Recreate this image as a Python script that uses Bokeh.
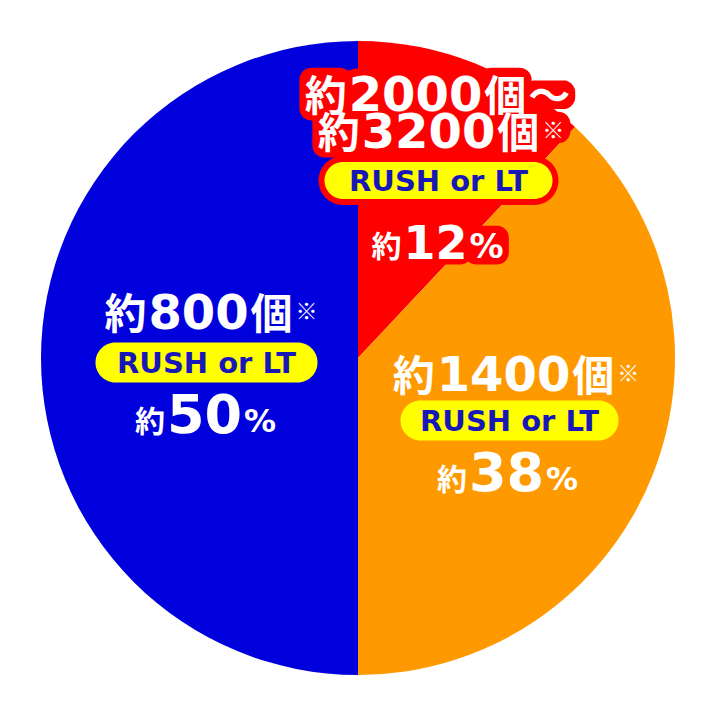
import numpy as np
from bokeh.plotting import figure
from bokeh.models import Range1d, ColumnDataSource
from bokeh.core.properties import value, field
from bokeh.embed import file_html
from bokeh.resources import INLINE

# ---------------- data ----------------
categories = ["約2000個～約3200個", "約1400個", "約800個"]
shares = [12, 38, 50]                       # percent, clockwise from 12 o'clock
slice_colors = ["#ff0000", "#ff9900", "#0000dc"]
count_labels = [["約2000個～", "約3200個※"], ["約1400個※"], ["約800個※"]]
mode_label = "RUSH or LT"
pct_prefix = "約"

# ---------------- layout (reference pixel coords, y downwards) ----------------
PIE_C = (357.5, 357.5)
PIE_R = 317
layout = [
    dict(lines=[(437, 110), (428, 147)], pill=(438, 180, 228, 37), pct=(437, 257),
         pct_num=46, pct_sym=34, halo=True),
    dict(lines=[(503, 390)], pill=(509, 420, 218, 40), pct=(507, 490),
         pct_num=54, pct_sym=32, halo=False),
    dict(lines=[(198, 328)], pill=(206, 362, 222, 40), pct=(205, 432),
         pct_num=54, pct_sym=32, halo=False),
]
NUM_FONT = "DejaVu Sans"
CJK_FONT = "Noto Sans CJK JP"
LINE_NUM, LINE_CJK, PCT_CJK, MARK = 48, 42, 30, 22
MID = {"num": 0.346, "pct": 0.346, "cjk": 0.436}   # em-box middle above baseline
HALO = "#ff0000"
PILL_TEXT = "#1818b8"

W, H = 696, 694


def Y(r):
    return 710 - r


def tokens(s):
    out, buf = [], ""
    for ch in s:
        if ch.isdigit():
            buf += ch
        else:
            if buf:
                out.append((buf, "num"))
                buf = ""
            out.append((ch, "mark" if ch == "※" else ("pct" if ch == "%" else "cjk")))
    if buf:
        out.append((buf, "num"))
    return out


def width(tok, kind, sizes):
    if kind == "num":
        return 0.696 * sizes["num"] * len(tok)
    if kind == "pct":
        return 1.002 * sizes["pct"]
    return 1.0 * sizes[kind] * len(tok)


def rrect(x0, x1, y0, y1, r, n=10):
    # rounded rectangle polygon in data coords (y0 < y1)
    r = min(r, (x1 - x0) / 2, (y1 - y0) / 2)
    pts_x, pts_y = [], []
    corners = [(x1 - r, y0 + r, -np.pi / 2, 0), (x1 - r, y1 - r, 0, np.pi / 2),
               (x0 + r, y1 - r, np.pi / 2, np.pi), (x0 + r, y0 + r, np.pi, 1.5 * np.pi)]
    for cx, cy, a0, a1 in corners:
        t = np.linspace(a0, a1, n)
        pts_x += list(cx + r * np.cos(t))
        pts_y += list(cy + r * np.sin(t))
    return pts_x, pts_y


def pill(cx, cy, w, h):
    return rrect(cx - w / 2, cx + w / 2, cy - h / 2, cy + h / 2, h / 2, n=16)


p = figure(width=W, height=H, x_range=Range1d(0, W), y_range=Range1d(710 - H, 710),
           output_backend="svg", toolbar_location=None, min_border=0,
           x_axis_location=None, y_axis_location=None)
p.grid.visible = False
p.outline_line_color = None
p.background_fill_color = "white"
p.border_fill_color = "white"

# pie
cum = np.cumsum([0] + shares) / 100.0
starts = np.pi / 2 - 2 * np.pi * cum[:-1]
ends = np.pi / 2 - 2 * np.pi * cum[1:]
pie_src = ColumnDataSource(dict(start=starts, end=ends, color=slice_colors, name=categories))
p.wedge(x=PIE_C[0], y=Y(PIE_C[1]), radius=PIE_R, start_angle="start", end_angle="end",
        direction="clock", fill_color="color", line_color=None, source=pie_src)

txt = dict(x=[], y=[], text=[], size=[], font=[])
halo_x, halo_y = [], []
PAD = 7


def add_halo(x0, x1, top, bottom):
    xs, ys = rrect(x0 - PAD, x1 + PAD, Y(bottom + PAD), Y(top - PAD), 12)
    halo_x.append(xs)
    halo_y.append(ys)


def place_line(s, cx, base, sizes, halo):
    toks = tokens(s)
    main = [(t, k) for t, k in toks if k != "mark"]
    gap = 2
    total = sum(width(t, k, sizes) for t, k in main) + gap * (len(main) - 1)
    x = cx - total / 2
    for t, k in toks:
        if k == "mark":
            ym = base - 20
            txt["x"].append(x + 1)
            txt["y"].append(Y(ym))
            txt["text"].append(t)
            txt["size"].append(f"{MARK}px")
            txt["font"].append(CJK_FONT)
            if halo:
                add_halo(x + 2, x + MARK, ym - 0.4 * MARK, ym + 0.4 * MARK)
            continue
        fs = sizes["num"] if k == "num" else (sizes["pct"] if k == "pct" else sizes["cjk"])
        w = width(t, k, sizes)
        txt["x"].append(x)
        txt["y"].append(Y(base - MID[k] * fs))
        txt["text"].append(t)
        txt["size"].append(f"{fs}px")
        txt["font"].append(NUM_FONT if k in ("num", "pct") else CJK_FONT)
        if halo:
            if k in ("num", "pct"):
                add_halo(x + 0.05 * fs, x + w - 0.05 * fs, base - 0.73 * fs, base)
            elif t == "～":
                add_halo(x + 0.05 * fs, x + w - 0.05 * fs, base - 0.55 * fs, base - 0.2 * fs)
            else:
                add_halo(x + 0.04 * fs, x + w - 0.04 * fs, base - 0.85 * fs, base + 0.07 * fs)
        x += w + gap


pill_outer_x, pill_outer_y = [], []
pill_x, pill_y = [], []
mode_x, mode_y = [], []
for i, lay in enumerate(layout):
    halo = lay["halo"]
    for s, (cx, base) in zip(count_labels[i], lay["lines"]):
        place_line(s, cx, base, dict(num=LINE_NUM, cjk=LINE_CJK, pct=LINE_NUM), halo)
    pct_text = f"{pct_prefix}{shares[i]}%"
    place_line(pct_text, lay["pct"][0], lay["pct"][1],
               dict(num=lay["pct_num"], cjk=PCT_CJK, pct=lay["pct_sym"]), halo)
    cx, cy, w, h = lay["pill"]
    if halo:
        xs, ys = pill(cx, Y(cy), w + 12, h + 12)
        pill_outer_x.append(xs)
        pill_outer_y.append(ys)
    xs, ys = pill(cx, Y(cy), w, h)
    pill_x.append(xs)
    pill_y.append(ys)
    mode_x.append(cx)
    mode_y.append(Y(cy))

p.patches(xs=halo_x, ys=halo_y, fill_color=HALO, line_color=None)
p.patches(xs=pill_outer_x, ys=pill_outer_y, fill_color=HALO, line_color=None)
p.text(x="x", y="y", text="text", source=ColumnDataSource(txt),
       text_font=field("font"), text_font_size=field("size"), text_font_style="bold",
       text_color="white", text_align="left", text_baseline="middle")
p.patches(xs=pill_x, ys=pill_y, fill_color="#ffff00", line_color=None)
p.text(x=mode_x, y=mode_y, text=[mode_label] * len(mode_x), text_font=value(NUM_FONT),
       text_font_size="29px", text_font_style="bold", text_color=PILL_TEXT,
       text_align="center", text_baseline="middle")

open("out.html", "w").write(file_html(p, INLINE))
